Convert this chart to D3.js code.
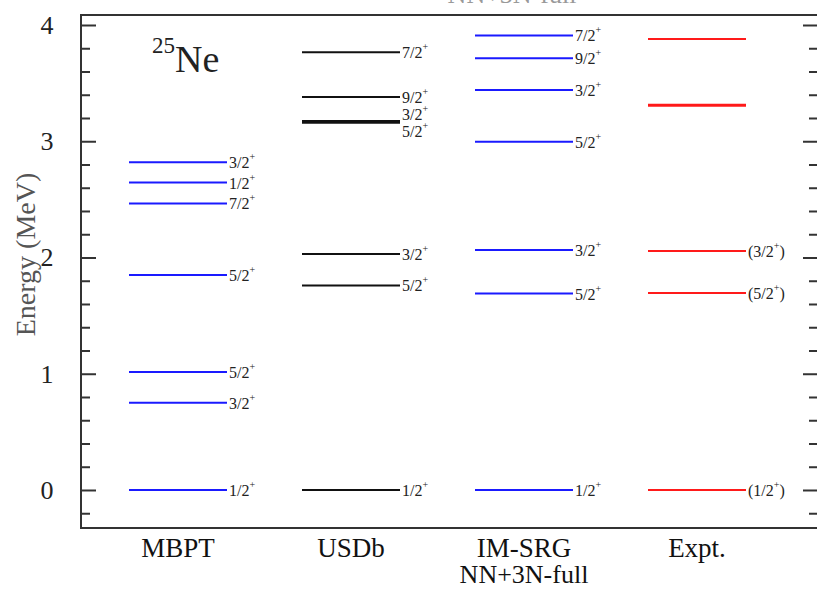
<!DOCTYPE html>
<html>
  <head>
    <meta charset="utf-8">
    <title>25Ne levels</title>
    <script src="https://d3js.org/d3.v7.min.js"></script>
    <style>
      body { margin: 0; background: white; }
      svg { display: block; font-family: "Liberation Serif", "Times New Roman", serif; }
    </style>
  </head>
  <body>
    <div id="chart"></div>
    <script>
      // columns
      var columns = ["MBPT", "USDb", "IM-SRG", "Expt."];
      var columnSub = ["", "", "NN+3N-full", ""];
      var columnColors = ["#1a1aff", "#111111", "#1a1aff", "#ff1a1a"];

      // levels (MeV) and spin labels, one array per column
      var mbptE = [0, 0.75, 1.015, 1.85, 2.465, 2.645, 2.82];
      var mbptJ = ["1/2", "3/2", "5/2", "5/2", "7/2", "1/2", "3/2"];
      var usdbE = [0, 1.76, 2.03, 3.16, 3.175, 3.38, 3.765];
      var usdbJ = ["1/2", "5/2", "3/2", "5/2", "3/2", "9/2", "7/2"];
      var imsrgE = [0, 1.69, 2.065, 2.995, 3.44, 3.715, 3.91];
      var imsrgJ = ["1/2", "5/2", "3/2", "5/2", "3/2", "9/2", "7/2"];
      var exptE = [0, 1.695, 2.055, 3.305, 3.315, 3.88];
      var exptJ = ["(1/2)", "(5/2)", "(3/2)", "", "", ""];

      var yTicks = [0, 1, 2, 3, 4];

      var levelsE = [mbptE, usdbE, imsrgE, exptE];
      var levelsJ = [mbptJ, usdbJ, imsrgJ, exptJ];

      var width = 817, height = 589;
      var margin = { top: 15, right: 0, bottom: 61, left: 81 };

      var svg = d3.select("#chart").append("svg")
        .attr("width", width)
        .attr("height", height);

      var y = d3.scaleLinear()
        .domain([-0.327, 4.086])
        .range([height - margin.bottom, margin.top]);
      var x = d3.scalePoint()
        .domain(columns)
        .range([178, 697]);
      var half = 49;

      // heading, mostly cut off by the top edge
      svg.append("text")
        .attr("x", 512).attr("y", 3)
        .attr("text-anchor", "middle")
        .style("font-size", "26px")
        .style("fill", "#999")
        .text("NN+3N-full");

      // frame
      svg.append("rect")
        .attr("x", margin.left)
        .attr("y", margin.top)
        .attr("width", width - margin.left + 2)
        .attr("height", height - margin.bottom - margin.top)
        .style("fill", "none")
        .style("stroke", "#333")
        .style("stroke-width", 2);

      // left / right axes with minor ticks
      var minor = d3.range(-0.2, 4.01, 0.2).filter(function(d) { return Math.abs(d - Math.round(d)) > 0.01; });
      svg.append("g")
        .attr("transform", "translate(" + margin.left + ",0)")
        .call(d3.axisRight(y).tickValues(minor).tickSize(9).tickFormat(""))
        .call(function(g) { g.select(".domain").remove(); });
      svg.append("g")
        .attr("transform", "translate(" + margin.left + ",0)")
        .call(d3.axisRight(y).tickValues(yTicks).tickSize(15).tickFormat(""))
        .call(function(g) { g.select(".domain").remove(); });
      svg.append("g")
        .attr("transform", "translate(" + width + ",0)")
        .call(d3.axisLeft(y).tickValues(minor).tickSize(8).tickFormat(""))
        .call(function(g) { g.select(".domain").remove(); });
      svg.append("g")
        .attr("transform", "translate(" + width + ",0)")
        .call(d3.axisLeft(y).tickValues(yTicks).tickSize(14).tickFormat(""))
        .call(function(g) { g.select(".domain").remove(); });
      svg.selectAll(".tick line").style("stroke", "#333").style("stroke-width", 2);

      // tick labels
      svg.selectAll(".ylab")
        .data(yTicks)
        .enter().append("text")
          .attr("x", 47)
          .attr("y", function(d) { return y(d) + 9; })
          .attr("text-anchor", "middle")
          .style("font-size", "26px")
          .style("fill", "#222")
          .text(function(d) { return d; });

      // axis title
      svg.append("text")
        .attr("transform", "translate(35," + (y(2) - 3) + ") rotate(-90)")
        .attr("text-anchor", "middle")
        .style("font-size", "28px")
        .style("fill", "#555")
        .text("Energy (MeV)");

      // nucleus label
      var nuc = svg.append("text")
        .attr("x", 152).attr("y", 72)
        .style("fill", "#222");
      nuc.append("tspan").attr("dy", -19).style("font-size", "23px").text("25");
      nuc.append("tspan").attr("dy", 19).style("font-size", "38px").text("Ne");

      // column labels
      svg.selectAll(".col")
        .data(columns)
        .enter().append("text")
          .attr("x", function(d) { return x(d); })
          .attr("y", 557)
          .attr("text-anchor", "middle")
          .style("font-size", "27px")
          .style("fill", "#111")
          .text(function(d) { return d; });
      svg.selectAll(".colsub")
        .data(columns.filter(function(d, i) { return columnSub[i]; }))
        .enter().append("text")
          .attr("x", function(d) { return x(d); })
          .attr("y", 583)
          .attr("text-anchor", "middle")
          .style("font-size", "26px")
          .style("fill", "#111")
          .text(function(d) { return columnSub[columns.indexOf(d)]; });

      // levels
      columns.forEach(function(col, ci) {
        var cx = x(col);
        var levels = levelsE[ci].map(function(e, i) { return { e: e, j: levelsJ[ci][i] }; });
        svg.selectAll(".lvl" + ci)
          .data(levels)
          .enter().append("line")
            .attr("x1", cx - half)
            .attr("x2", cx + half)
            .attr("y1", function(d) { return y(d.e); })
            .attr("y2", function(d) { return y(d.e); })
            .style("stroke", columnColors[ci])
            .style("stroke-width", 2);

        // spread labels that would overlap
        var labeled = levels.filter(function(d) { return d.j; })
          .map(function(d) { return { j: d.j, ly: y(d.e) }; })
          .sort(function(a, b) { return b.ly - a.ly; });
        for (var it = 0; it < 20; it++) {
          for (var k = 1; k < labeled.length; k++) {
            var gap = labeled[k - 1].ly - labeled[k].ly;
            if (gap < 17) {
              var push = (17 - gap) / 2;
              labeled[k - 1].ly += push;
              labeled[k].ly -= push;
            }
          }
        }
        labeled.forEach(function(d) {
          var paren = d.j.charAt(0) == "(";
          var t = svg.append("text")
            .attr("x", cx + half + 2)
            .attr("y", d.ly + 6)
            .style("font-size", "16px")
            .style("fill", "#222");
          t.append("tspan").text(paren ? d.j.slice(0, -1) : d.j);
          t.append("tspan").attr("dy", -8).style("font-size", "10px").text("+");
          if (paren) t.append("tspan").attr("dy", 8).text(")");
        });
      });
    </script>
  </body>
</html>
